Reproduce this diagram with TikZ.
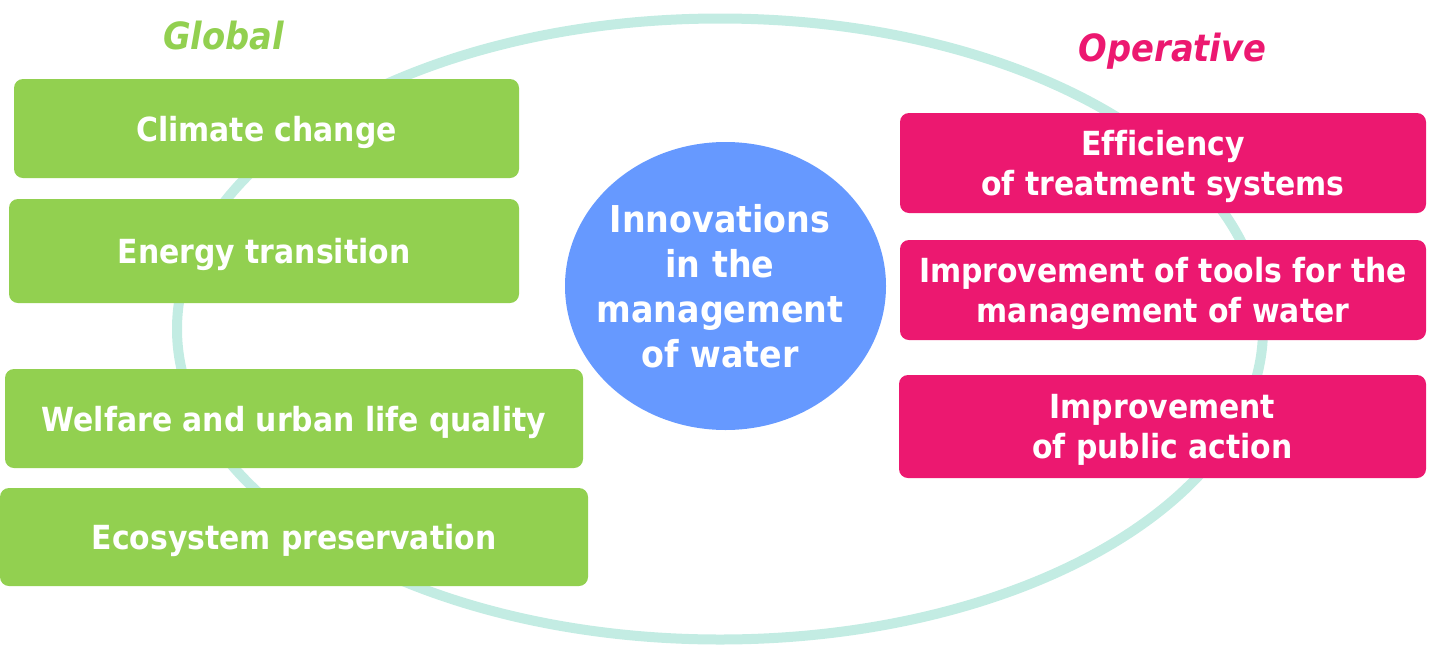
\documentclass[tikz,border=0pt]{standalone}
\usepackage{fontspec}
\setmainfont{DejaVu Sans Condensed}[Ligatures=NoCommon]
\usepackage{tikz}

\definecolor{globgreen}{HTML}{92D050}
\definecolor{operpink}{HTML}{EC1870}
\definecolor{innoblue}{HTML}{6699FF}
\definecolor{ringteal}{HTML}{C3ECE3}

\begin{document}
\begin{tikzpicture}[x=1pt,y=-1pt,
  gbox/.style={rectangle,rounded corners=9pt,fill=globgreen,text=white,inner sep=0pt,align=center,text depth=0pt,font=\bfseries\fontsize{33.2}{40}\selectfont},
  mbox/.style={gbox,fill=operpink,minimum width=526,minimum height=100},
  head/.style={anchor=base,inner sep=0pt,font=\bfseries\itshape\fontsize{37.5}{45}\selectfont}]
\useasboundingbox (0,0) rectangle (1438,646);

% ring
\draw[ringteal,line width=10pt] (720,329) ellipse [x radius=543,y radius=310.5];

% Global
\node[head,text=globgreen] (glob) at (223.5,49.3) {Global};
\node[gbox,minimum width=505,minimum height=99] (clim) at (266.5,128.5) {Climate change};
\node[gbox,minimum width=510,minimum height=104] (ener) at (264,251) {Energy transition};
\node[gbox,minimum width=578,minimum height=99] (welf) at (294,418.5) {Welfare and urban life quality};
\node[gbox,minimum width=588,minimum height=98] (ecos) at (294,537) {Ecosystem preservation};

% Innovations
\coordinate (innov) at (725.5,286);
\fill[innoblue] (innov) ellipse [x radius=160.5,y radius=144];
\node[text=white,inner sep=0pt,align=center,text depth=0pt,font=\bfseries\fontsize{37}{45}\selectfont] (innotxt) at (720,286) {Innovations\\in the\\management\\of water};

% Operative
\node[head,text=operpink] (oper) at (1172.5,61.7) {Operative};
\node[mbox] (effi) at (1163,163) {Efficiency\\of treatment systems};
\node[mbox] (tool) at (1163,290) {Improvement of tools for the\\management of water};
\node[mbox,minimum width=527,minimum height=103] (publ) at (1162.5,426.5) {Improvement\\of public action};

\end{tikzpicture}
\end{document}
